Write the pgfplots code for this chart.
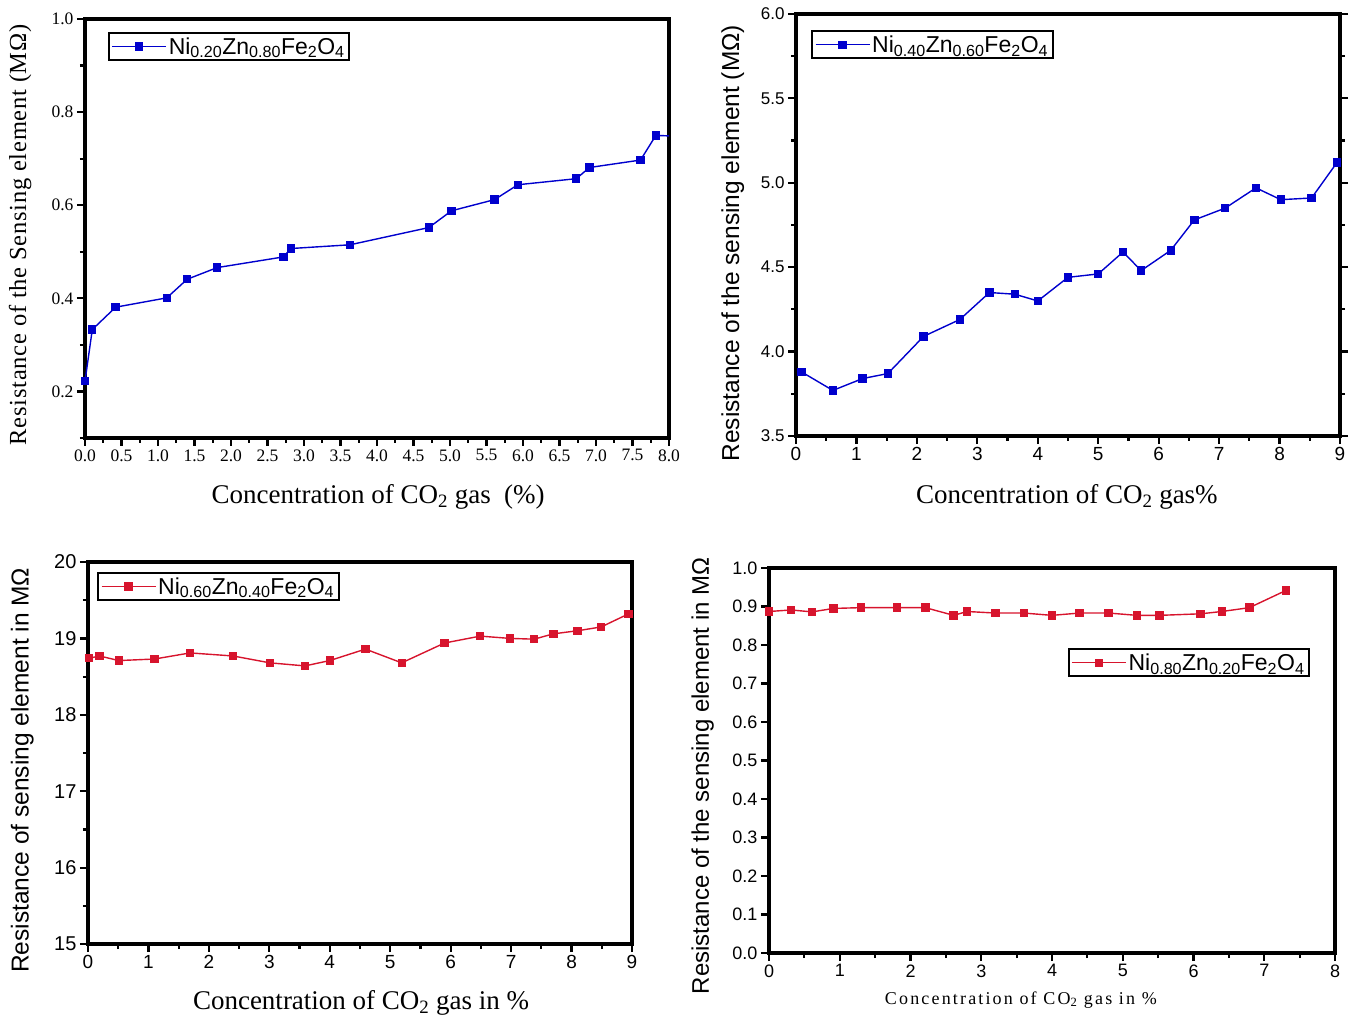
\documentclass[border=0pt]{standalone}
\usepackage{fontspec}
\setmainfont{Liberation Serif}
\setsansfont{Liberation Sans}
\usepackage{pgfplots}
\pgfplotsset{compat=1.18}

\definecolor{pblue}{RGB}{0,0,205}
\definecolor{pred}{RGB}{215,20,45}

\pgfplotsset{
  panel/.style={scale only axis, clip=true,
    every outer x axis line/.append style={line width=3.6pt},
    every outer y axis line/.append style={line width=3.6pt},
    axis line style={line width=3.6pt},
    axis background/.style={draw=black, line width=3.6pt},
    tick style={line width=2.2pt, black},
    tick align=outside, major tick length=8pt, minor tick length=5pt,
    xtick pos=left, ytick pos=left,
    /pgf/number format/assume math mode=true,
    every axis y label/.style={rotate=90, anchor=center},
    every axis x label/.style={anchor=center},
    legend cell align=left,
    legend style={draw=black, line width=2.2pt, fill=white, inner sep=2.5pt,
      font=\sffamily\fontsize{23}{26}\selectfont},
    legend image code/.code={\draw[##1, mark repeat=2, mark phase=2, line width=1.4pt]
      plot coordinates {(0pt,0pt) (27pt,0pt) (54pt,0pt)};}},
  bl/.style={color=pblue, line width=1.4pt, mark=square*, mark size=3.5pt},
  rd/.style={color=pred, line width=1.4pt, mark=square*, mark size=3.5pt}
}

\begin{document}
\begin{tikzpicture}
\path (0pt,0pt) rectangle (1351pt,1021pt);

% top left
\begin{axis}[panel, at={(85pt,583pt)}, anchor=south west, width=584pt, height=419pt,
  xmin=0, xmax=8, ymin=0.1, ymax=1.0,
  xtick={0,0.5,...,8}, minor x tick num=1,
  ytick={0.2,0.4,0.6,0.8,1.0}, minor ytick={0.1,0.3,0.5,0.7,0.9},
  xticklabel style={/pgf/number format/.cd, fixed, fixed zerofill, precision=1},
  yticklabel style={/pgf/number format/.cd, fixed, fixed zerofill, precision=1},
  tick label style={font=\rmfamily\fontsize{17.5}{20}\selectfont},
  xlabel={Concentration of CO\textsubscript{2} gas\ \ (\%)},
  ylabel={\addfontfeatures{LetterSpace=3}Resistance of the Sensing element (MΩ)},
  xlabel style={at={(axis description cs:0.502,-0.141)}, font=\rmfamily\fontsize{27}{30}\selectfont},
  ylabel style={at={(axis description cs:-0.111,0.485)}, font=\rmfamily\fontsize{24.5}{28}\selectfont},
  legend style={at={(axis description cs:0.039,0.969)}, anchor=north west}]
\addplot[bl] coordinates {(0,0.222) (0.10,0.333) (0.42,0.381) (1.12,0.401) (1.40,0.441)
  (1.81,0.466) (2.72,0.489) (2.82,0.507) (3.63,0.515) (4.71,0.552) (5.02,0.588)
  (5.61,0.612) (5.93,0.644) (6.73,0.657) (6.91,0.681) (7.61,0.697) (7.82,0.750) (8.15,0.748)};
\legend{Ni\textsubscript{0.20}Zn\textsubscript{0.80}Fe\textsubscript{2}O\textsubscript{4}}
\end{axis}

% top right
\begin{axis}[panel, at={(796pt,585pt)}, anchor=south west, width=544pt, height=422pt,
  xmin=0, xmax=9, ymin=3.5, ymax=6.0, ytick pos=both,
  xtick={0,...,9}, minor x tick num=1,
  ytick={3.5,4.0,...,6.0}, minor y tick num=1,
  yticklabel style={/pgf/number format/.cd, fixed, fixed zerofill, precision=1,
    /tikz/font=\sffamily\fontsize{17}{20}\selectfont},
  xticklabel style={font=\sffamily\fontsize{19}{22}\selectfont},
  xlabel={Concentration of CO\textsubscript{2} gas\%},
  ylabel={Resistance of the sensing element (MΩ)},
  xlabel style={at={(axis description cs:0.498,-0.145)}, font=\rmfamily\fontsize{27}{30}\selectfont},
  ylabel style={at={(axis description cs:-0.116,0.457)}, font=\sffamily\fontsize{24.5}{28}\selectfont},
  legend style={at={(axis description cs:0.028,0.962)}, anchor=north west}]
\addplot[bl] coordinates {(0.09,3.88) (0.61,3.77) (1.10,3.84) (1.52,3.87) (2.11,4.09)
  (2.71,4.19) (3.20,4.35) (3.62,4.34) (4.00,4.30) (4.50,4.44) (5.00,4.46) (5.41,4.59)
  (5.71,4.48) (6.20,4.60) (6.59,4.78) (7.10,4.85) (7.61,4.97) (8.02,4.90) (8.53,4.91) (8.95,5.12)};
\legend{Ni\textsubscript{0.40}Zn\textsubscript{0.60}Fe\textsubscript{2}O\textsubscript{4}}
\end{axis}

% bottom left
\begin{axis}[panel, at={(88pt,77pt)}, anchor=south west, width=544pt, height=382pt,
  xmin=0, xmax=9, ymin=15, ymax=20,
  xtick={0,...,9}, minor x tick num=1,
  ytick={15,...,20}, minor y tick num=1,
  yticklabel style={font=\sffamily\fontsize{20}{23}\selectfont},
  xticklabel style={font=\sffamily\fontsize{19}{22}\selectfont},
  xlabel={Concentration of CO\textsubscript{2} gas in \%},
  ylabel={Resistance of sensing element in MΩ},
  xlabel style={at={(axis description cs:0.502,-0.155)}, font=\rmfamily\fontsize{27}{30}\selectfont},
  ylabel style={at={(axis description cs:-0.121,0.455)}, font=\sffamily\fontsize{24.5}{28}\selectfont},
  legend style={at={(axis description cs:0.017,0.974)}, anchor=north west}]
\addplot[rd] coordinates {(0.02,18.74) (0.19,18.77) (0.51,18.71) (1.10,18.73) (1.69,18.81)
  (2.40,18.77) (3.01,18.68) (3.59,18.64) (4.00,18.71) (4.59,18.86) (5.19,18.68)
  (5.90,18.94) (6.49,19.03) (6.98,19.00) (7.38,18.99) (7.70,19.06) (8.10,19.10)
  (8.49,19.15) (8.94,19.32)};
\legend{Ni\textsubscript{0.60}Zn\textsubscript{0.40}Fe\textsubscript{2}O\textsubscript{4}}
\end{axis}

% bottom right
\begin{axis}[panel, at={(769pt,68pt)}, anchor=south west, width=566pt, height=385pt,
  xmin=0, xmax=8, ymin=0, ymax=1.0,
  xtick={0,...,8}, minor x tick num=1,
  ytick={0,0.1,...,1.0},
  yticklabel style={/pgf/number format/.cd, fixed, fixed zerofill, precision=1,
    /tikz/font=\sffamily\fontsize{18}{21}\selectfont},
  xticklabel style={font=\sffamily\fontsize{18}{21}\selectfont},
  xlabel={\addfontfeatures{LetterSpace=12}Concentration of CO\textsubscript{2} gas in \%},
  ylabel={Resistance of the sensing element in MΩ},
  xlabel style={at={(axis description cs:0.445,-0.122)}, font=\rmfamily\fontsize{18}{21}\selectfont},
  ylabel style={at={(axis description cs:-0.117,0.460)}, font=\sffamily\fontsize{24}{28}\selectfont},
  legend style={at={(axis description cs:0.956,0.792)}, anchor=north east}]
\addplot[rd] coordinates {(0,0.887) (0.31,0.891) (0.61,0.886) (0.91,0.895) (1.30,0.897)
  (1.81,0.897) (2.21,0.897) (2.61,0.877) (2.80,0.887) (3.20,0.883) (3.60,0.883)
  (4.00,0.877) (4.39,0.883) (4.80,0.883) (5.20,0.877) (5.52,0.877) (6.10,0.881)
  (6.40,0.887) (6.79,0.897) (7.31,0.942)};
\legend{Ni\textsubscript{0.80}Zn\textsubscript{0.20}Fe\textsubscript{2}O\textsubscript{4}}
\end{axis}
\end{tikzpicture}
\end{document}
